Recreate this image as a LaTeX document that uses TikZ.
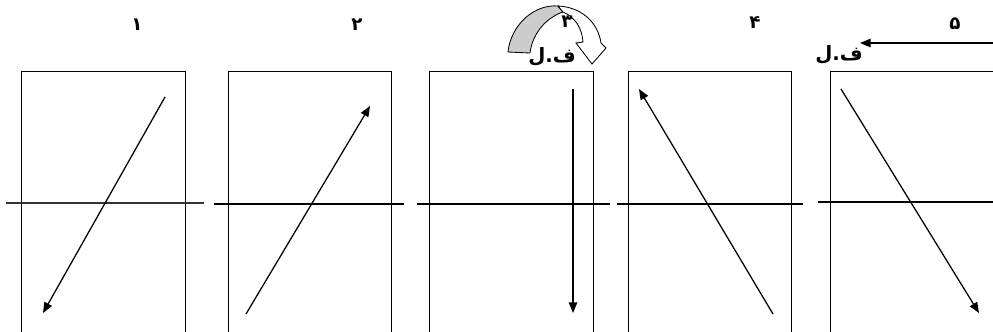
\documentclass[tikz,border=0pt]{standalone}
\usepackage{fontspec}
\newfontfamily\arabicfont[Script=Arabic]{DejaVu Sans}
\TeXXeTstate=1
\usetikzlibrary{arrows.meta}

\begin{document}
\begin{tikzpicture}[x=0.025cm,y=-0.025cm,>={Triangle[length=7.5pt,width=6pt]},
 frame/.style={draw,line width=0.7pt},
 axis/.style={line width=1.1pt},
 vec/.style={->,line width=0.9pt},
 num/.style={font=\arabicfont\bfseries\fontsize{13}{15}\selectfont},
 tag/.style={font=\arabicfont\bfseries\fontsize{14}{16}\selectfont}]
\useasboundingbox (0,0) rectangle (993,331);
\clip (0,0) rectangle (993,331);
% the five frames
\draw[frame] (21,71) rectangle (185,333);
\draw[frame] (228,71) rectangle (391,333);
\draw[frame] (429,71) rectangle (593,333);
\draw[frame] (628,71) rectangle (791,333);
\draw[frame] (830,71) rectangle (1010,333);
% horizontal lines
\draw[axis,line width=0.8pt,black!80] (6,203) -- (204,203);
\draw[axis] (214,204) -- (404,204);
\draw[axis] (417,204) -- (610,204);
\draw[axis] (617,204) -- (803,204);
\draw[axis] (818,202) -- (993,202);
% rays
\coordinate (a1) at (165,97);  \coordinate (b1) at (43,313);
\coordinate (a2) at (246,314); \coordinate (b2) at (370,106);
\coordinate (a3) at (573,89);  \coordinate (b3) at (573,313);
\coordinate (a4) at (773,314); \coordinate (b4) at (639,89);
\coordinate (a5) at (841,89);  \coordinate (b5) at (979,313);
\draw[vec] (a1) -- (b1);
\draw[vec] (a2) -- (b2);
\draw[vec] (a3) -- (b3);
\draw[vec] (a4) -- (b4);
\draw[vec] (a5) -- (b5);
% curved turn arrow over frame 3
\draw[fill=gray!40,line width=0.6pt] (508,52) .. controls (511,24) and (535,4) .. (558,6)
  -- (563,12) .. controls (545,18) and (532,35) .. (530,53) -- cycle;
\draw[fill=white,line width=0.6pt] (558,6) .. controls (581,7) and (598,22) .. (601,43)
  -- (606,48) -- (592,64) -- (576,43) -- (583,42)
  .. controls (582,28) and (575,17) .. (563,12) -- cycle;
% numbers
\node[num] (n1) at (137,25) {\beginR ۱\endR};
\node[num] (n2) at (357,25) {\beginR ۲\endR};
\node[num] (n3) at (567,22) {\beginR ۳\endR};
\node[num] (n4) at (755,23) {\beginR ۴\endR};
\node[num] (n5) at (955,24) {\beginR ۵\endR};
% labels
\node[tag] (t3) at (552,57) {\beginR ف.ل\endR};
\node[tag] (t5) at (839,55) {\beginR ف.ل\endR};
\coordinate (e5) at (993,43);
\coordinate (f5) at (860,43);
\draw[vec] (e5) -- (f5);
\end{tikzpicture}
\end{document}
